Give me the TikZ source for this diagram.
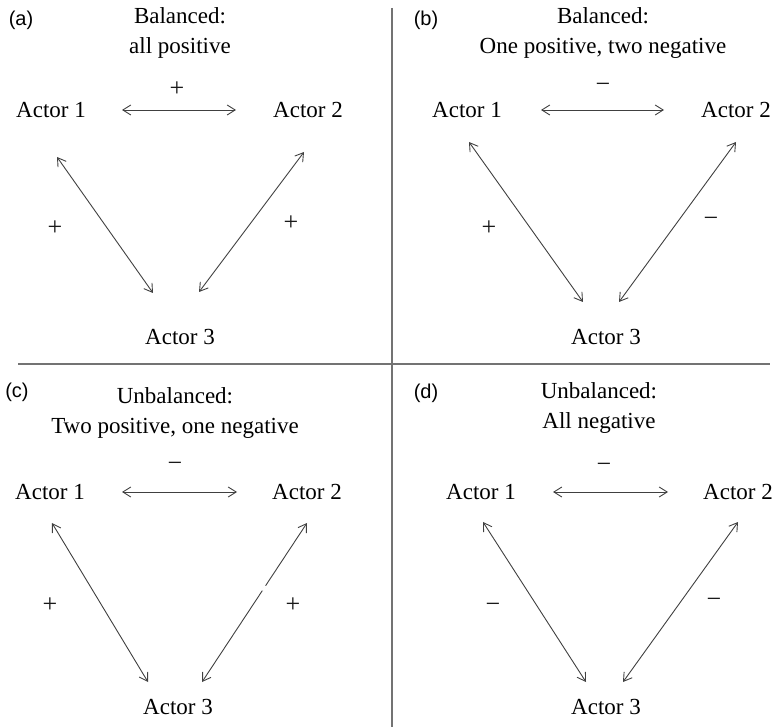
\documentclass[tikz,border=0pt]{standalone}
\usepackage{fontspec}
\setmainfont{Liberation Serif}
\newfontfamily\labfont{Liberation Sans}
\usetikzlibrary{arrows.meta,calc}
\begin{document}
\begin{tikzpicture}[x=1pt,y=-1pt,
  txt/.style={inner sep=0pt,font=\fontsize{23}{27}\selectfont,text=black},
  ttl/.style={inner sep=0pt,align=center,font=\fontsize{23}{30}\selectfont,text=black},
  sgn/.style={inner sep=0pt,font=\fontsize{26}{28}\selectfont,text=black!90},
  plab/.style={inner sep=0pt,font=\labfont\fontsize{20}{24}\selectfont,text=black},
  rel/.style={draw=black!75,line width=0.9pt,{Straight Barb[length=8pt,width=10pt]}-{Straight Barb[length=8pt,width=10pt]}},
  divider/.style={draw=black!55,line width=1.6pt}]
\useasboundingbox (0,0) rectangle (772,727);

% dividers
\coordinate (vt) at (392,8);
\coordinate (vb) at (392,727);
\coordinate (hl) at (18,364);
\coordinate (hr) at (770,364);
\draw[divider] (vt) -- (vb);
\draw[divider] (hl) -- (hr);

% ---------- panel (a)
\node[plab] (la) at (21,20) {(a)};
\node[ttl] (ta) at (180,33) {Balanced:\\all positive};
\node[txt] (a1) at (51,110) {Actor 1};
\node[txt] (a2) at (308,110) {Actor 2};
\node[txt] (a3) at (180,337) {Actor 3};
\coordinate (a12s) at (122,110); \coordinate (a12e) at (236,110);
\coordinate (a13s) at (57,157);  \coordinate (a13e) at (153,293);
\coordinate (a23s) at (304,152); \coordinate (a23e) at (199,292);
\draw[rel] (a12s) -- (a12e);
\draw[rel] (a13s) -- (a13e);
\draw[rel] (a23s) -- (a23e);
\node[sgn] (sa12) at (177,89) {+};
\node[sgn] (sa13) at (55,228) {+};
\node[sgn] (sa23) at (291,223) {+};

% ---------- panel (b)
\node[plab] (lb) at (426,20) {(b)};
\node[ttl] (tb) at (603,33) {Balanced:\\One positive, two negative};
\node[txt] (b1) at (467,110) {Actor 1};
\node[txt] (b2) at (736,110) {Actor 2};
\node[txt] (b3) at (606,337) {Actor 3};
\coordinate (b12s) at (541,110); \coordinate (b12e) at (664,110);
\coordinate (b13s) at (469,142); \coordinate (b13e) at (583,302);
\coordinate (b23s) at (736,142); \coordinate (b23e) at (619,302);
\draw[rel] (b12s) -- (b12e);
\draw[rel] (b13s) -- (b13e);
\draw[rel] (b23s) -- (b23e);
\node[sgn] (sb12) at (603,88) {−};
\node[sgn] (sb13) at (489,228) {+};
\node[sgn] (sb23) at (711,222) {−};

% ---------- panel (c)
\node[plab] (lc) at (17,392) {(c)};
\node[ttl] (tc) at (175,413) {Unbalanced:\\Two positive, one negative};
\node[txt] (c1) at (50,492) {Actor 1};
\node[txt] (c2) at (307,492) {Actor 2};
\node[txt] (c3) at (178,707) {Actor 3};
\coordinate (c12s) at (122,492); \coordinate (c12e) at (237,492);
\coordinate (c13s) at (52,523);  \coordinate (c13e) at (148,682);
\coordinate (c23s) at (307,523); \coordinate (c23e) at (202,682);
\draw[rel] (c12s) -- (c12e);
\draw[rel] (c13s) -- (c13e);
\draw[rel] (c23s) -- (c23e);
\coordinate (gapa) at ($(c23s)!0.395!(c23e)$);
\coordinate (gapb) at ($(c23s)!0.425!(c23e)$);
\draw[white,line width=2pt] (gapa) -- (gapb);
\node[sgn] (sc12) at (175,467) {−};
\node[sgn] (sc13) at (50,605) {+};
\node[sgn] (sc23) at (293,605) {+};

% ---------- panel (d)
\node[plab] (ld) at (426,393) {(d)};
\node[ttl] (td) at (599,408) {Unbalanced:\\All negative};
\node[txt] (d1) at (481,492) {Actor 1};
\node[txt] (d2) at (738,492) {Actor 2};
\node[txt] (d3) at (606,707) {Actor 3};
\coordinate (d12s) at (553,492); \coordinate (d12e) at (668,492);
\coordinate (d13s) at (483,522); \coordinate (d13e) at (586,682);
\coordinate (d23s) at (738,522); \coordinate (d23e) at (623,682);
\draw[rel] (d12s) -- (d12e);
\draw[rel] (d13s) -- (d13e);
\draw[rel] (d23s) -- (d23e);
\node[sgn] (sd12) at (604,468) {−};
\node[sgn] (sd13) at (493,608) {−};
\node[sgn] (sd23) at (714,603) {−};
\end{tikzpicture}
\end{document}
